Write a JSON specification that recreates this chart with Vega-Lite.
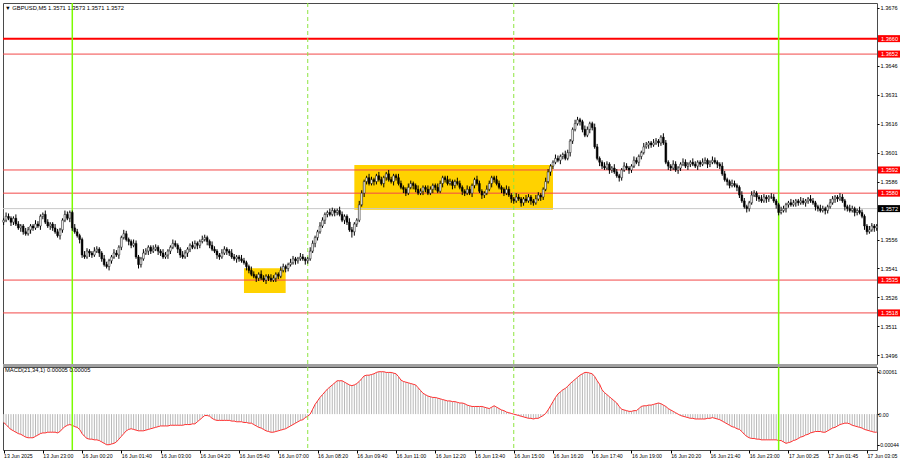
{
"$schema": "https://vega.github.io/schema/vega-lite/v6.json",
"padding": {"left": 1, "top": 1, "right": 0, "bottom": 0},
"background": "#ffffff",
"spacing": 3,
"bounds": "flush",
"config": {
  "view": {"stroke": "#4a4a4a", "strokeWidth": 1},
  "font": "Liberation Sans",
  "axis": {"labelFont": "Liberation Sans", "labelFontSize": 5.6, "labelColor": "#000000", "tickColor": "#000000", "domain": false, "grid": false},
  "axisX": {"labelFontSize": 5.2},
  "axisY": {"labelFontSize": 5.6},
  "title": {"font": "Liberation Sans", "fontSize": 5.8, "fontWeight": "normal", "color": "#000000", "anchor": "start", "frame": "group"}
},
"datasets": {
"bars": [
{"i":0,"o":1.3565,"h":1.3567,"l":1.35635,"c":1.3566,"m":-0.00012},
{"i":1,"o":1.3566,"h":1.357,"l":1.3565,"c":1.3568,"m":-0.00015},
{"i":2,"o":1.3568,"h":1.35695,"l":1.3566,"c":1.3567,"m":-0.00019},
{"i":3,"o":1.3567,"h":1.3568,"l":1.3563,"c":1.3565,"m":-0.00022},
{"i":4,"o":1.3565,"h":1.3568,"l":1.35635,"c":1.3567,"m":-0.00024},
{"i":5,"o":1.3567,"h":1.3569,"l":1.3563,"c":1.3564,"m":-0.00026},
{"i":6,"o":1.3564,"h":1.35655,"l":1.3561,"c":1.3562,"m":-0.00028},
{"i":7,"o":1.3562,"h":1.3564,"l":1.356,"c":1.3563,"m":-0.00029},
{"i":8,"o":1.3563,"h":1.3564,"l":1.35585,"c":1.356,"m":-0.00031},
{"i":9,"o":1.356,"h":1.3562,"l":1.3558,"c":1.3559,"m":-0.00033},
{"i":10,"o":1.3559,"h":1.35625,"l":1.3558,"c":1.3561,"m":-0.00034},
{"i":11,"o":1.3561,"h":1.3564,"l":1.3559,"c":1.3563,"m":-0.00034},
{"i":12,"o":1.3563,"h":1.3564,"l":1.35605,"c":1.3562,"m":-0.00034},
{"i":13,"o":1.3562,"h":1.3566,"l":1.3561,"c":1.3564,"m":-0.00032},
{"i":14,"o":1.3564,"h":1.35655,"l":1.3562,"c":1.3563,"m":-0.0003},
{"i":15,"o":1.3563,"h":1.3569,"l":1.3561,"c":1.3568,"m":-0.00028},
{"i":16,"o":1.3568,"h":1.357,"l":1.35665,"c":1.3569,"m":-0.00027},
{"i":17,"o":1.3569,"h":1.3571,"l":1.3564,"c":1.3565,"m":-0.00027},
{"i":18,"o":1.3565,"h":1.35665,"l":1.3562,"c":1.3563,"m":-0.00026},
{"i":19,"o":1.3563,"h":1.3565,"l":1.3561,"c":1.3564,"m":-0.00026},
{"i":20,"o":1.3564,"h":1.3565,"l":1.35605,"c":1.3562,"m":-0.00026},
{"i":21,"o":1.3562,"h":1.3564,"l":1.3559,"c":1.356,"m":-0.00026},
{"i":22,"o":1.356,"h":1.35615,"l":1.3557,"c":1.3558,"m":-0.00027},
{"i":23,"o":1.3558,"h":1.3562,"l":1.3556,"c":1.3561,"m":-0.00025},
{"i":24,"o":1.3561,"h":1.3567,"l":1.35595,"c":1.3566,"m":-0.00021},
{"i":25,"o":1.3566,"h":1.3571,"l":1.3565,"c":1.3569,"m":-0.00018},
{"i":26,"o":1.3569,"h":1.35705,"l":1.3566,"c":1.3567,"m":-0.00016},
{"i":27,"o":1.3567,"h":1.3571,"l":1.3565,"c":1.357,"m":-0.00015},
{"i":28,"o":1.357,"h":1.3571,"l":1.35605,"c":1.3562,"m":-0.00016},
{"i":29,"o":1.3562,"h":1.3564,"l":1.3559,"c":1.356,"m":-0.00018},
{"i":30,"o":1.356,"h":1.35615,"l":1.3557,"c":1.3558,"m":-0.00019},
{"i":31,"o":1.3558,"h":1.3559,"l":1.3554,"c":1.3556,"m":-0.00022},
{"i":32,"o":1.3556,"h":1.3557,"l":1.35465,"c":1.3548,"m":-0.00028},
{"i":33,"o":1.3548,"h":1.355,"l":1.3546,"c":1.3547,"m":-0.00032},
{"i":34,"o":1.3547,"h":1.35515,"l":1.3546,"c":1.355,"m":-0.00035},
{"i":35,"o":1.355,"h":1.3551,"l":1.3547,"c":1.3549,"m":-0.00036},
{"i":36,"o":1.3549,"h":1.355,"l":1.35465,"c":1.3548,"m":-0.00036},
{"i":37,"o":1.3548,"h":1.3552,"l":1.3547,"c":1.355,"m":-0.00037},
{"i":38,"o":1.355,"h":1.35525,"l":1.3549,"c":1.3551,"m":-0.00037},
{"i":39,"o":1.3551,"h":1.3552,"l":1.3547,"c":1.3549,"m":-0.00038},
{"i":40,"o":1.3549,"h":1.355,"l":1.35445,"c":1.3546,"m":-0.0004},
{"i":41,"o":1.3546,"h":1.3548,"l":1.3542,"c":1.3543,"m":-0.00042},
{"i":42,"o":1.3543,"h":1.35445,"l":1.3541,"c":1.3542,"m":-0.00044},
{"i":43,"o":1.3542,"h":1.3546,"l":1.354,"c":1.3545,"m":-0.00044},
{"i":44,"o":1.3545,"h":1.3548,"l":1.35435,"c":1.3547,"m":-0.00043},
{"i":45,"o":1.3547,"h":1.3551,"l":1.3546,"c":1.3549,"m":-0.00042},
{"i":46,"o":1.3549,"h":1.35505,"l":1.3547,"c":1.3548,"m":-0.0004},
{"i":47,"o":1.3548,"h":1.3553,"l":1.3546,"c":1.3552,"m":-0.00036},
{"i":48,"o":1.3552,"h":1.3558,"l":1.35505,"c":1.3557,"m":-0.00032},
{"i":49,"o":1.3557,"h":1.3561,"l":1.3556,"c":1.3559,"m":-0.00028},
{"i":50,"o":1.3559,"h":1.35605,"l":1.3555,"c":1.3556,"m":-0.00024},
{"i":51,"o":1.3556,"h":1.3557,"l":1.3553,"c":1.3555,"m":-0.00022},
{"i":52,"o":1.3555,"h":1.3556,"l":1.35515,"c":1.3553,"m":-0.00021},
{"i":53,"o":1.3553,"h":1.3556,"l":1.3552,"c":1.3554,"m":-0.00022},
{"i":54,"o":1.3554,"h":1.35555,"l":1.3546,"c":1.3547,"m":-0.00023},
{"i":55,"o":1.3547,"h":1.3548,"l":1.3541,"c":1.3543,"m":-0.00024},
{"i":56,"o":1.3543,"h":1.3547,"l":1.35415,"c":1.3546,"m":-0.00024},
{"i":57,"o":1.3546,"h":1.3551,"l":1.3545,"c":1.3549,"m":-0.00024},
{"i":58,"o":1.3549,"h":1.35515,"l":1.3548,"c":1.355,"m":-0.00023},
{"i":59,"o":1.355,"h":1.3553,"l":1.3548,"c":1.3552,"m":-0.00022},
{"i":60,"o":1.3552,"h":1.3553,"l":1.35485,"c":1.355,"m":-0.00021},
{"i":61,"o":1.355,"h":1.3553,"l":1.3549,"c":1.3551,"m":-0.0002},
{"i":62,"o":1.3551,"h":1.35535,"l":1.355,"c":1.3552,"m":-0.00019},
{"i":63,"o":1.3552,"h":1.3553,"l":1.3548,"c":1.355,"m":-0.00018},
{"i":64,"o":1.355,"h":1.3551,"l":1.35475,"c":1.3549,"m":-0.00017},
{"i":65,"o":1.3549,"h":1.3551,"l":1.3546,"c":1.3547,"m":-0.00017},
{"i":66,"o":1.3547,"h":1.35495,"l":1.3546,"c":1.3548,"m":-0.00017},
{"i":67,"o":1.3548,"h":1.3551,"l":1.3546,"c":1.355,"m":-0.00017},
{"i":68,"o":1.355,"h":1.3553,"l":1.35485,"c":1.3552,"m":-0.00016},
{"i":69,"o":1.3552,"h":1.3556,"l":1.3551,"c":1.3554,"m":-0.00016},
{"i":70,"o":1.3554,"h":1.35555,"l":1.3552,"c":1.3553,"m":-0.00016},
{"i":71,"o":1.3553,"h":1.3554,"l":1.3549,"c":1.3551,"m":-0.00016},
{"i":72,"o":1.3551,"h":1.3552,"l":1.35465,"c":1.3548,"m":-0.00016},
{"i":73,"o":1.3548,"h":1.355,"l":1.3546,"c":1.3547,"m":-0.00016},
{"i":74,"o":1.3547,"h":1.35505,"l":1.3546,"c":1.3549,"m":-0.00015},
{"i":75,"o":1.3549,"h":1.3552,"l":1.3547,"c":1.3551,"m":-0.00015},
{"i":76,"o":1.3551,"h":1.3554,"l":1.35495,"c":1.3553,"m":-0.00015},
{"i":77,"o":1.3553,"h":1.3555,"l":1.3551,"c":1.3552,"m":-0.00014},
{"i":78,"o":1.3552,"h":1.35555,"l":1.3551,"c":1.3554,"m":-0.00014},
{"i":79,"o":1.3554,"h":1.3555,"l":1.3551,"c":1.3553,"m":-0.00011},
{"i":80,"o":1.3553,"h":1.3556,"l":1.35515,"c":1.3555,"m":-0.00008},
{"i":81,"o":1.3555,"h":1.3558,"l":1.3554,"c":1.3556,"m":-0.00005},
{"i":82,"o":1.3556,"h":1.35585,"l":1.3555,"c":1.3557,"m":-0.00002},
{"i":83,"o":1.3557,"h":1.3558,"l":1.3553,"c":1.3555,"m":-0.00002},
{"i":84,"o":1.3555,"h":1.3556,"l":1.35515,"c":1.3553,"m":-0.00003},
{"i":85,"o":1.3553,"h":1.3555,"l":1.355,"c":1.3551,"m":-0.00006},
{"i":86,"o":1.3551,"h":1.35525,"l":1.3549,"c":1.355,"m":-0.00008},
{"i":87,"o":1.355,"h":1.3551,"l":1.3546,"c":1.3548,"m":-0.00009},
{"i":88,"o":1.3548,"h":1.3549,"l":1.35455,"c":1.3547,"m":-0.00009},
{"i":89,"o":1.3547,"h":1.3551,"l":1.3546,"c":1.3549,"m":-0.00009},
{"i":90,"o":1.3549,"h":1.35525,"l":1.3548,"c":1.3551,"m":-0.00009},
{"i":91,"o":1.3551,"h":1.3552,"l":1.3548,"c":1.355,"m":-0.00009},
{"i":92,"o":1.355,"h":1.3551,"l":1.35475,"c":1.3549,"m":-0.00009},
{"i":93,"o":1.3549,"h":1.3551,"l":1.3546,"c":1.3547,"m":-0.0001},
{"i":94,"o":1.3547,"h":1.35485,"l":1.3545,"c":1.3546,"m":-0.0001},
{"i":95,"o":1.3546,"h":1.3548,"l":1.3544,"c":1.3547,"m":-0.00011},
{"i":96,"o":1.3547,"h":1.3548,"l":1.35445,"c":1.3546,"m":-0.00011},
{"i":97,"o":1.3546,"h":1.3548,"l":1.3544,"c":1.3545,"m":-0.00011},
{"i":98,"o":1.3545,"h":1.35465,"l":1.3543,"c":1.3544,"m":-0.00012},
{"i":99,"o":1.3544,"h":1.3545,"l":1.354,"c":1.3542,"m":-0.00012},
{"i":100,"o":1.3542,"h":1.3543,"l":1.35385,"c":1.354,"m":-0.00013},
{"i":101,"o":1.354,"h":1.3542,"l":1.3537,"c":1.3538,"m":-0.00013},
{"i":102,"o":1.3538,"h":1.35395,"l":1.3536,"c":1.3537,"m":-0.00015},
{"i":103,"o":1.3537,"h":1.3538,"l":1.3534,"c":1.3536,"m":-0.00017},
{"i":104,"o":1.3536,"h":1.3539,"l":1.35345,"c":1.3538,"m":-0.00019},
{"i":105,"o":1.3538,"h":1.354,"l":1.3535,"c":1.3536,"m":-0.0002},
{"i":106,"o":1.3536,"h":1.35375,"l":1.3534,"c":1.3535,"m":-0.00022},
{"i":107,"o":1.3535,"h":1.3538,"l":1.3533,"c":1.3537,"m":-0.00024},
{"i":108,"o":1.3537,"h":1.3538,"l":1.35345,"c":1.3536,"m":-0.00025},
{"i":109,"o":1.3536,"h":1.3538,"l":1.3534,"c":1.3535,"m":-0.00026},
{"i":110,"o":1.3535,"h":1.35375,"l":1.3534,"c":1.3536,"m":-0.00026},
{"i":111,"o":1.3536,"h":1.3539,"l":1.3534,"c":1.3538,"m":-0.00025},
{"i":112,"o":1.3538,"h":1.3539,"l":1.35355,"c":1.3537,"m":-0.00024},
{"i":113,"o":1.3537,"h":1.3542,"l":1.3536,"c":1.354,"m":-0.00023},
{"i":114,"o":1.354,"h":1.35435,"l":1.3539,"c":1.3542,"m":-0.00022},
{"i":115,"o":1.3542,"h":1.3543,"l":1.3539,"c":1.3541,"m":-0.00021},
{"i":116,"o":1.3541,"h":1.3544,"l":1.35395,"c":1.3543,"m":-0.00019},
{"i":117,"o":1.3543,"h":1.3546,"l":1.3542,"c":1.3544,"m":-0.00017},
{"i":118,"o":1.3544,"h":1.35475,"l":1.3543,"c":1.3546,"m":-0.00015},
{"i":119,"o":1.3546,"h":1.3547,"l":1.3543,"c":1.3545,"m":-0.00013},
{"i":120,"o":1.3545,"h":1.3547,"l":1.35435,"c":1.3546,"m":-0.00011},
{"i":121,"o":1.3546,"h":1.3549,"l":1.3545,"c":1.3547,"m":-0.00009},
{"i":122,"o":1.3547,"h":1.35485,"l":1.3545,"c":1.3546,"m":-0.00008},
{"i":123,"o":1.3546,"h":1.3547,"l":1.3543,"c":1.3545,"m":-0.00005},
{"i":124,"o":1.3545,"h":1.3547,"l":1.35435,"c":1.3546,"m":-0.00003},
{"i":125,"o":1.3546,"h":1.3552,"l":1.3545,"c":1.355,"m":0},
{"i":126,"o":1.355,"h":1.35555,"l":1.3549,"c":1.3554,"m":0.00007},
{"i":127,"o":1.3554,"h":1.3558,"l":1.3552,"c":1.3557,"m":0.00014},
{"i":128,"o":1.3557,"h":1.3561,"l":1.35555,"c":1.356,"m":0.00019},
{"i":129,"o":1.356,"h":1.3565,"l":1.3559,"c":1.3563,"m":0.00024},
{"i":130,"o":1.3563,"h":1.35675,"l":1.3562,"c":1.3566,"m":0.00028},
{"i":131,"o":1.3566,"h":1.357,"l":1.3564,"c":1.3569,"m":0.00032},
{"i":132,"o":1.3569,"h":1.3571,"l":1.35675,"c":1.357,"m":0.00036},
{"i":133,"o":1.357,"h":1.3572,"l":1.3568,"c":1.3569,"m":0.00039},
{"i":134,"o":1.3569,"h":1.35725,"l":1.3568,"c":1.3571,"m":0.00042},
{"i":135,"o":1.3571,"h":1.3572,"l":1.3568,"c":1.357,"m":0.00045},
{"i":136,"o":1.357,"h":1.3572,"l":1.35685,"c":1.3571,"m":0.00048},
{"i":137,"o":1.3571,"h":1.3573,"l":1.3568,"c":1.3569,"m":0.00048},
{"i":138,"o":1.3569,"h":1.35705,"l":1.3565,"c":1.3566,"m":0.00048},
{"i":139,"o":1.3566,"h":1.3569,"l":1.3564,"c":1.3568,"m":0.00046},
{"i":140,"o":1.3568,"h":1.3569,"l":1.35635,"c":1.3565,"m":0.00044},
{"i":141,"o":1.3565,"h":1.3567,"l":1.356,"c":1.3561,"m":0.00042},
{"i":142,"o":1.3561,"h":1.35625,"l":1.3557,"c":1.356,"m":0.00041},
{"i":143,"o":1.356,"h":1.3565,"l":1.3558,"c":1.3564,"m":0.00042},
{"i":144,"o":1.3564,"h":1.3567,"l":1.35625,"c":1.3566,"m":0.00044},
{"i":145,"o":1.3566,"h":1.3576,"l":1.3565,"c":1.3574,"m":0.00047},
{"i":146,"o":1.3574,"h":1.35815,"l":1.3573,"c":1.358,"m":0.00051},
{"i":147,"o":1.358,"h":1.3587,"l":1.3578,"c":1.3586,"m":0.00055},
{"i":148,"o":1.3586,"h":1.3589,"l":1.35845,"c":1.3588,"m":0.00056},
{"i":149,"o":1.3588,"h":1.359,"l":1.3584,"c":1.3585,"m":0.00056},
{"i":150,"o":1.3585,"h":1.35885,"l":1.3584,"c":1.3587,"m":0.00057},
{"i":151,"o":1.3587,"h":1.3588,"l":1.3584,"c":1.3586,"m":0.00058},
{"i":152,"o":1.3586,"h":1.359,"l":1.35845,"c":1.3589,"m":0.0006},
{"i":153,"o":1.3589,"h":1.3591,"l":1.3586,"c":1.3587,"m":0.00061},
{"i":154,"o":1.3587,"h":1.35885,"l":1.3584,"c":1.3585,"m":0.00061},
{"i":155,"o":1.3585,"h":1.3589,"l":1.3583,"c":1.3588,"m":0.00061},
{"i":156,"o":1.3588,"h":1.3591,"l":1.35865,"c":1.359,"m":0.0006},
{"i":157,"o":1.359,"h":1.3592,"l":1.3586,"c":1.3587,"m":0.0006},
{"i":158,"o":1.3587,"h":1.35885,"l":1.3585,"c":1.3586,"m":0.0006},
{"i":159,"o":1.3586,"h":1.359,"l":1.3584,"c":1.3589,"m":0.00059},
{"i":160,"o":1.3589,"h":1.359,"l":1.35865,"c":1.3588,"m":0.00058},
{"i":161,"o":1.3588,"h":1.359,"l":1.3584,"c":1.3585,"m":0.00054},
{"i":162,"o":1.3585,"h":1.35865,"l":1.3582,"c":1.3583,"m":0.00049},
{"i":163,"o":1.3583,"h":1.3584,"l":1.358,"c":1.3582,"m":0.00047},
{"i":164,"o":1.3582,"h":1.3583,"l":1.35785,"c":1.358,"m":0.00046},
{"i":165,"o":1.358,"h":1.3585,"l":1.3579,"c":1.3583,"m":0.00045},
{"i":166,"o":1.3583,"h":1.35865,"l":1.3582,"c":1.3585,"m":0.00044},
{"i":167,"o":1.3585,"h":1.3586,"l":1.3582,"c":1.3584,"m":0.00043},
{"i":168,"o":1.3584,"h":1.3585,"l":1.35805,"c":1.3582,"m":0.00042},
{"i":169,"o":1.3582,"h":1.3584,"l":1.3579,"c":1.358,"m":0.00038},
{"i":170,"o":1.358,"h":1.35825,"l":1.3579,"c":1.3581,"m":0.00034},
{"i":171,"o":1.3581,"h":1.3584,"l":1.3579,"c":1.3583,"m":0.0003},
{"i":172,"o":1.3583,"h":1.3584,"l":1.35805,"c":1.3582,"m":0.00028},
{"i":173,"o":1.3582,"h":1.3584,"l":1.3579,"c":1.358,"m":0.00026},
{"i":174,"o":1.358,"h":1.35835,"l":1.3579,"c":1.3582,"m":0.00025},
{"i":175,"o":1.3582,"h":1.3585,"l":1.358,"c":1.3584,"m":0.00024},
{"i":176,"o":1.3584,"h":1.3585,"l":1.35815,"c":1.3583,"m":0.00024},
{"i":177,"o":1.3583,"h":1.3585,"l":1.358,"c":1.3581,"m":0.00023},
{"i":178,"o":1.3581,"h":1.35865,"l":1.358,"c":1.3585,"m":0.00022},
{"i":179,"o":1.3585,"h":1.3589,"l":1.3583,"c":1.3588,"m":0.00021},
{"i":180,"o":1.3588,"h":1.3589,"l":1.35855,"c":1.3587,"m":0.0002},
{"i":181,"o":1.3587,"h":1.3589,"l":1.3584,"c":1.3585,"m":0.00019},
{"i":182,"o":1.3585,"h":1.35875,"l":1.3584,"c":1.3586,"m":0.00019},
{"i":183,"o":1.3586,"h":1.3587,"l":1.3582,"c":1.3584,"m":0.00018},
{"i":184,"o":1.3584,"h":1.3587,"l":1.35825,"c":1.3586,"m":0.00018},
{"i":185,"o":1.3586,"h":1.3588,"l":1.3584,"c":1.3585,"m":0.00017},
{"i":186,"o":1.3585,"h":1.35865,"l":1.3582,"c":1.3583,"m":0.00016},
{"i":187,"o":1.3583,"h":1.3584,"l":1.3579,"c":1.3581,"m":0.00016},
{"i":188,"o":1.3581,"h":1.3582,"l":1.35785,"c":1.358,"m":0.00015},
{"i":189,"o":1.358,"h":1.3584,"l":1.3579,"c":1.3582,"m":0.00013},
{"i":190,"o":1.3582,"h":1.35835,"l":1.3579,"c":1.358,"m":0.00012},
{"i":191,"o":1.358,"h":1.3585,"l":1.3578,"c":1.3584,"m":0.00011},
{"i":192,"o":1.3584,"h":1.3588,"l":1.35825,"c":1.3587,"m":0.00011},
{"i":193,"o":1.3587,"h":1.3589,"l":1.3584,"c":1.3585,"m":0.00011},
{"i":194,"o":1.3585,"h":1.35865,"l":1.358,"c":1.3581,"m":0.00011},
{"i":195,"o":1.3581,"h":1.3582,"l":1.3577,"c":1.3579,"m":0.00011},
{"i":196,"o":1.3579,"h":1.3581,"l":1.35775,"c":1.358,"m":0.0001},
{"i":197,"o":1.358,"h":1.3584,"l":1.3579,"c":1.3582,"m":0.00009},
{"i":198,"o":1.3582,"h":1.35865,"l":1.3581,"c":1.3585,"m":0.00008},
{"i":199,"o":1.3585,"h":1.3589,"l":1.3583,"c":1.3588,"m":0.0001},
{"i":200,"o":1.3588,"h":1.3589,"l":1.35855,"c":1.3587,"m":0.00012},
{"i":201,"o":1.3587,"h":1.3589,"l":1.3584,"c":1.3585,"m":0.0001},
{"i":202,"o":1.3585,"h":1.35865,"l":1.3582,"c":1.3583,"m":0.00008},
{"i":203,"o":1.3583,"h":1.3584,"l":1.358,"c":1.3582,"m":0.00006},
{"i":204,"o":1.3582,"h":1.3583,"l":1.35785,"c":1.358,"m":0.00005},
{"i":205,"o":1.358,"h":1.3584,"l":1.3579,"c":1.3582,"m":0.00003},
{"i":206,"o":1.3582,"h":1.35835,"l":1.3578,"c":1.3579,"m":0.00002},
{"i":207,"o":1.3579,"h":1.358,"l":1.3575,"c":1.3577,"m":0.00001},
{"i":208,"o":1.3577,"h":1.3578,"l":1.35745,"c":1.3576,"m":0},
{"i":209,"o":1.3576,"h":1.358,"l":1.3575,"c":1.3578,"m":-0.00001},
{"i":210,"o":1.3578,"h":1.35795,"l":1.3576,"c":1.3577,"m":-0.00002},
{"i":211,"o":1.3577,"h":1.3578,"l":1.3573,"c":1.3575,"m":-0.00003},
{"i":212,"o":1.3575,"h":1.3578,"l":1.35735,"c":1.3577,"m":-0.00004},
{"i":213,"o":1.3577,"h":1.3579,"l":1.3575,"c":1.3576,"m":-0.00005},
{"i":214,"o":1.3576,"h":1.35795,"l":1.3575,"c":1.3578,"m":-0.00006},
{"i":215,"o":1.3578,"h":1.3579,"l":1.3574,"c":1.3576,"m":-0.00006},
{"i":216,"o":1.3576,"h":1.3577,"l":1.35735,"c":1.3575,"m":-0.00007},
{"i":217,"o":1.3575,"h":1.3579,"l":1.3574,"c":1.3577,"m":-0.00006},
{"i":218,"o":1.3577,"h":1.35805,"l":1.3576,"c":1.3579,"m":-0.00006},
{"i":219,"o":1.3579,"h":1.358,"l":1.3576,"c":1.3578,"m":-0.00004},
{"i":220,"o":1.3578,"h":1.3583,"l":1.35765,"c":1.3582,"m":-0.00002},
{"i":221,"o":1.3582,"h":1.3588,"l":1.3581,"c":1.3586,"m":0.00001},
{"i":222,"o":1.3586,"h":1.35925,"l":1.3585,"c":1.3591,"m":0.00006},
{"i":223,"o":1.3591,"h":1.3595,"l":1.3589,"c":1.3594,"m":0.00012},
{"i":224,"o":1.3594,"h":1.3597,"l":1.35925,"c":1.3596,"m":0.00018},
{"i":225,"o":1.3596,"h":1.36,"l":1.3595,"c":1.3598,"m":0.00024},
{"i":226,"o":1.3598,"h":1.35995,"l":1.3596,"c":1.3597,"m":0.00029},
{"i":227,"o":1.3597,"h":1.36,"l":1.3595,"c":1.3599,"m":0.00032},
{"i":228,"o":1.3599,"h":1.3601,"l":1.35975,"c":1.36,"m":0.00035},
{"i":229,"o":1.36,"h":1.3602,"l":1.3597,"c":1.3598,"m":0.00037},
{"i":230,"o":1.3598,"h":1.36025,"l":1.3597,"c":1.3601,"m":0.0004},
{"i":231,"o":1.3601,"h":1.3608,"l":1.3599,"c":1.3607,"m":0.00044},
{"i":232,"o":1.3607,"h":1.3614,"l":1.36055,"c":1.3613,"m":0.00047},
{"i":233,"o":1.3613,"h":1.3618,"l":1.3612,"c":1.3616,"m":0.0005},
{"i":234,"o":1.3616,"h":1.36195,"l":1.3615,"c":1.3618,"m":0.00053},
{"i":235,"o":1.3618,"h":1.3619,"l":1.3615,"c":1.3617,"m":0.00056},
{"i":236,"o":1.3617,"h":1.3618,"l":1.36115,"c":1.3613,"m":0.00058},
{"i":237,"o":1.3613,"h":1.3615,"l":1.3609,"c":1.361,"m":0.0006},
{"i":238,"o":1.361,"h":1.36145,"l":1.3609,"c":1.3613,"m":0.0006},
{"i":239,"o":1.3613,"h":1.3617,"l":1.3611,"c":1.3616,"m":0.00059},
{"i":240,"o":1.3616,"h":1.3617,"l":1.36125,"c":1.3614,"m":0.00058},
{"i":241,"o":1.3614,"h":1.3616,"l":1.3603,"c":1.3604,"m":0.00054},
{"i":242,"o":1.3604,"h":1.36055,"l":1.3597,"c":1.3598,"m":0.00048},
{"i":243,"o":1.3598,"h":1.3599,"l":1.3594,"c":1.3596,"m":0.00043},
{"i":244,"o":1.3596,"h":1.3597,"l":1.35925,"c":1.3594,"m":0.00035},
{"i":245,"o":1.3594,"h":1.3596,"l":1.3592,"c":1.3593,"m":0.00031},
{"i":246,"o":1.3593,"h":1.35965,"l":1.3592,"c":1.3595,"m":0.00028},
{"i":247,"o":1.3595,"h":1.3596,"l":1.359,"c":1.3592,"m":0.00025},
{"i":248,"o":1.3592,"h":1.3594,"l":1.35905,"c":1.3593,"m":0.00022},
{"i":249,"o":1.3593,"h":1.3595,"l":1.359,"c":1.3591,"m":0.00019},
{"i":250,"o":1.3591,"h":1.35925,"l":1.3588,"c":1.3589,"m":0.00016},
{"i":251,"o":1.3589,"h":1.359,"l":1.3586,"c":1.3588,"m":0.00011},
{"i":252,"o":1.3588,"h":1.3593,"l":1.35865,"c":1.3592,"m":0.00007},
{"i":253,"o":1.3592,"h":1.3596,"l":1.3591,"c":1.3594,"m":0.00006},
{"i":254,"o":1.3594,"h":1.35955,"l":1.3592,"c":1.3593,"m":0.00005},
{"i":255,"o":1.3593,"h":1.3594,"l":1.359,"c":1.3592,"m":0.00004},
{"i":256,"o":1.3592,"h":1.3595,"l":1.35905,"c":1.3594,"m":0.00004},
{"i":257,"o":1.3594,"h":1.3599,"l":1.3593,"c":1.3597,"m":0.00005},
{"i":258,"o":1.3597,"h":1.35985,"l":1.3595,"c":1.3596,"m":0.00005},
{"i":259,"o":1.3596,"h":1.36,"l":1.3594,"c":1.3599,"m":0.00008},
{"i":260,"o":1.3599,"h":1.3602,"l":1.35975,"c":1.3601,"m":0.00011},
{"i":261,"o":1.3601,"h":1.3606,"l":1.36,"c":1.3604,"m":0.00012},
{"i":262,"o":1.3604,"h":1.36065,"l":1.3603,"c":1.3605,"m":0.00012},
{"i":263,"o":1.3605,"h":1.3607,"l":1.3603,"c":1.3606,"m":0.00013},
{"i":264,"o":1.3606,"h":1.3607,"l":1.36035,"c":1.3605,"m":0.00013},
{"i":265,"o":1.3605,"h":1.3608,"l":1.3604,"c":1.3606,"m":0.00014},
{"i":266,"o":1.3606,"h":1.36085,"l":1.3605,"c":1.3607,"m":0.00015},
{"i":267,"o":1.3607,"h":1.3608,"l":1.3604,"c":1.3606,"m":0.00016},
{"i":268,"o":1.3606,"h":1.361,"l":1.36045,"c":1.3609,"m":0.00015},
{"i":269,"o":1.3609,"h":1.3611,"l":1.3605,"c":1.3606,"m":0.00013},
{"i":270,"o":1.3606,"h":1.36075,"l":1.3595,"c":1.3596,"m":0.00011},
{"i":271,"o":1.3596,"h":1.3597,"l":1.3592,"c":1.3594,"m":0.00008},
{"i":272,"o":1.3594,"h":1.3595,"l":1.35915,"c":1.3593,"m":0.00006},
{"i":273,"o":1.3593,"h":1.3597,"l":1.3592,"c":1.3595,"m":0.00004},
{"i":274,"o":1.3595,"h":1.35965,"l":1.3591,"c":1.3592,"m":0.00002},
{"i":275,"o":1.3592,"h":1.3594,"l":1.359,"c":1.3593,"m":0},
{"i":276,"o":1.3593,"h":1.3596,"l":1.35915,"c":1.3595,"m":-0.00002},
{"i":277,"o":1.3595,"h":1.3598,"l":1.3594,"c":1.3596,"m":-0.00003},
{"i":278,"o":1.3596,"h":1.35975,"l":1.3593,"c":1.3594,"m":-0.00004},
{"i":279,"o":1.3594,"h":1.3596,"l":1.3592,"c":1.3595,"m":-0.00005},
{"i":280,"o":1.3595,"h":1.3597,"l":1.35935,"c":1.3596,"m":-0.00006},
{"i":281,"o":1.3596,"h":1.3598,"l":1.3594,"c":1.3595,"m":-0.00006},
{"i":282,"o":1.3595,"h":1.35965,"l":1.3593,"c":1.3594,"m":-0.00007},
{"i":283,"o":1.3594,"h":1.3597,"l":1.3592,"c":1.3596,"m":-0.00007},
{"i":284,"o":1.3596,"h":1.3597,"l":1.35935,"c":1.3595,"m":-0.00007},
{"i":285,"o":1.3595,"h":1.3598,"l":1.3594,"c":1.3596,"m":-0.00007},
{"i":286,"o":1.3596,"h":1.35985,"l":1.3595,"c":1.3597,"m":-0.00007},
{"i":287,"o":1.3597,"h":1.3598,"l":1.3593,"c":1.3595,"m":-0.00006},
{"i":288,"o":1.3595,"h":1.3597,"l":1.35935,"c":1.3596,"m":-0.00006},
{"i":289,"o":1.3596,"h":1.3599,"l":1.3595,"c":1.3597,"m":-0.00005},
{"i":290,"o":1.3597,"h":1.35985,"l":1.3595,"c":1.3596,"m":-0.00006},
{"i":291,"o":1.3596,"h":1.3597,"l":1.3593,"c":1.3595,"m":-0.00007},
{"i":292,"o":1.3595,"h":1.3596,"l":1.35925,"c":1.3594,"m":-0.00008},
{"i":293,"o":1.3594,"h":1.3596,"l":1.3589,"c":1.359,"m":-0.0001},
{"i":294,"o":1.359,"h":1.35915,"l":1.3586,"c":1.3587,"m":-0.00012},
{"i":295,"o":1.3587,"h":1.3588,"l":1.3584,"c":1.3586,"m":-0.00014},
{"i":296,"o":1.3586,"h":1.3587,"l":1.35825,"c":1.3584,"m":-0.00016},
{"i":297,"o":1.3584,"h":1.3587,"l":1.3583,"c":1.3585,"m":-0.00018},
{"i":298,"o":1.3585,"h":1.35865,"l":1.3583,"c":1.3584,"m":-0.00019},
{"i":299,"o":1.3584,"h":1.3585,"l":1.3581,"c":1.3583,"m":-0.00021},
{"i":300,"o":1.3583,"h":1.3584,"l":1.35775,"c":1.3579,"m":-0.00022},
{"i":301,"o":1.3579,"h":1.3581,"l":1.3575,"c":1.3576,"m":-0.00025},
{"i":302,"o":1.3576,"h":1.35775,"l":1.3572,"c":1.3573,"m":-0.00029},
{"i":303,"o":1.3573,"h":1.3574,"l":1.357,"c":1.3572,"m":-0.00032},
{"i":304,"o":1.3572,"h":1.3576,"l":1.35705,"c":1.3575,"m":-0.00034},
{"i":305,"o":1.3575,"h":1.3581,"l":1.3574,"c":1.3579,"m":-0.00035},
{"i":306,"o":1.3579,"h":1.35815,"l":1.3578,"c":1.358,"m":-0.00035},
{"i":307,"o":1.358,"h":1.3581,"l":1.3576,"c":1.3578,"m":-0.00036},
{"i":308,"o":1.3578,"h":1.3579,"l":1.35755,"c":1.3577,"m":-0.00036},
{"i":309,"o":1.3577,"h":1.3579,"l":1.3575,"c":1.3576,"m":-0.00037},
{"i":310,"o":1.3576,"h":1.35795,"l":1.3575,"c":1.3578,"m":-0.00037},
{"i":311,"o":1.3578,"h":1.3579,"l":1.3575,"c":1.3577,"m":-0.00037},
{"i":312,"o":1.3577,"h":1.3579,"l":1.35755,"c":1.3578,"m":-0.00037},
{"i":313,"o":1.3578,"h":1.358,"l":1.3577,"c":1.3578,"m":-0.00037},
{"i":314,"o":1.3578,"h":1.35795,"l":1.3575,"c":1.3576,"m":-0.00037},
{"i":315,"o":1.3576,"h":1.3577,"l":1.3572,"c":1.3574,"m":-0.00037},
{"i":316,"o":1.3574,"h":1.3575,"l":1.35685,"c":1.357,"m":-0.00038},
{"i":317,"o":1.357,"h":1.3573,"l":1.3569,"c":1.3571,"m":-0.00038},
{"i":318,"o":1.3571,"h":1.35735,"l":1.357,"c":1.3572,"m":-0.0004},
{"i":319,"o":1.3572,"h":1.3575,"l":1.357,"c":1.3574,"m":-0.00042},
{"i":320,"o":1.3574,"h":1.3576,"l":1.35725,"c":1.3575,"m":-0.00041},
{"i":321,"o":1.3575,"h":1.3577,"l":1.3573,"c":1.3574,"m":-0.0004},
{"i":322,"o":1.3574,"h":1.35765,"l":1.3573,"c":1.3575,"m":-0.00038},
{"i":323,"o":1.3575,"h":1.3577,"l":1.3573,"c":1.3576,"m":-0.00037},
{"i":324,"o":1.3576,"h":1.3577,"l":1.35735,"c":1.3575,"m":-0.00035},
{"i":325,"o":1.3575,"h":1.3578,"l":1.3574,"c":1.3576,"m":-0.00033},
{"i":326,"o":1.3576,"h":1.35775,"l":1.3574,"c":1.3575,"m":-0.00032},
{"i":327,"o":1.3575,"h":1.3577,"l":1.3573,"c":1.3576,"m":-0.0003},
{"i":328,"o":1.3576,"h":1.3578,"l":1.35745,"c":1.3577,"m":-0.00029},
{"i":329,"o":1.3577,"h":1.3579,"l":1.3575,"c":1.3576,"m":-0.00027},
{"i":330,"o":1.3576,"h":1.35775,"l":1.3574,"c":1.3575,"m":-0.00026},
{"i":331,"o":1.3575,"h":1.3576,"l":1.3571,"c":1.3573,"m":-0.00025},
{"i":332,"o":1.3573,"h":1.3574,"l":1.35705,"c":1.3572,"m":-0.00025},
{"i":333,"o":1.3572,"h":1.3574,"l":1.357,"c":1.3571,"m":-0.00025},
{"i":334,"o":1.3571,"h":1.35735,"l":1.357,"c":1.3572,"m":-0.00026},
{"i":335,"o":1.3572,"h":1.3573,"l":1.3569,"c":1.3571,"m":-0.00026},
{"i":336,"o":1.3571,"h":1.3574,"l":1.35695,"c":1.3573,"m":-0.00024},
{"i":337,"o":1.3573,"h":1.3577,"l":1.3572,"c":1.3575,"m":-0.00022},
{"i":338,"o":1.3575,"h":1.35785,"l":1.3574,"c":1.3577,"m":-0.0002},
{"i":339,"o":1.3577,"h":1.3579,"l":1.3575,"c":1.3578,"m":-0.00019},
{"i":340,"o":1.3578,"h":1.3579,"l":1.35755,"c":1.3577,"m":-0.00017},
{"i":341,"o":1.3577,"h":1.358,"l":1.3576,"c":1.3578,"m":-0.00015},
{"i":342,"o":1.3578,"h":1.35795,"l":1.3575,"c":1.3576,"m":-0.00014},
{"i":343,"o":1.3576,"h":1.3577,"l":1.3571,"c":1.3573,"m":-0.00013},
{"i":344,"o":1.3573,"h":1.3574,"l":1.35705,"c":1.3572,"m":-0.00013},
{"i":345,"o":1.3572,"h":1.3574,"l":1.357,"c":1.3571,"m":-0.00014},
{"i":346,"o":1.3571,"h":1.35735,"l":1.357,"c":1.3572,"m":-0.00016},
{"i":347,"o":1.3572,"h":1.3573,"l":1.3568,"c":1.357,"m":-0.00017},
{"i":348,"o":1.357,"h":1.3572,"l":1.35685,"c":1.3571,"m":-0.00018},
{"i":349,"o":1.3571,"h":1.3573,"l":1.3569,"c":1.357,"m":-0.00019},
{"i":350,"o":1.357,"h":1.35715,"l":1.3567,"c":1.3568,"m":-0.0002},
{"i":351,"o":1.3568,"h":1.3569,"l":1.3561,"c":1.3563,"m":-0.00022},
{"i":352,"o":1.3563,"h":1.3564,"l":1.35585,"c":1.356,"m":-0.00023},
{"i":353,"o":1.356,"h":1.3563,"l":1.3559,"c":1.3561,"m":-0.00024},
{"i":354,"o":1.3561,"h":1.35645,"l":1.356,"c":1.3563,"m":-0.00025},
{"i":355,"o":1.3563,"h":1.3564,"l":1.356,"c":1.3562,"m":-0.00026},
{"i":356,"o":1.3562,"h":1.3564,"l":1.35605,"c":1.3563,"m":-0.00026}
],
"levels": [
{"p":1.366,"t":"1.3660"},
{"p":1.3652,"t":"1.3652"},
{"p":1.3592,"t":"1.3592"},
{"p":1.358,"t":"1.3580"},
{"p":1.3535,"t":"1.3535"},
{"p":1.3518,"t":"1.3518"}
],
"price": [{"p":1.3572,"t":"1.3572"}],
"lines": [
{"i":28,"k":"day"},
{"i":316,"k":"day"},
{"i":124,"k":"session"},
{"i":208,"k":"session"}
],
"boxes": [
{"i1":98,"i2":115,"p1":1.35283,"p2":1.35411},
{"i1":143,"i2":224,"p1":1.357145,"p2":1.359463}
],
"edge": [{"v":0.0007}]
},
"vconcat": [
{
  "width": 874,
  "height": 361,
  "title": {"text": "▼ GBPUSD,M5  1.3571 1.3573 1.3571 1.3572", "offset": -9, "dx": 2},
  "layer": [
    {"data": {"name": "boxes"}, "mark": {"type": "rect", "color": "#ffd200"},
     "encoding": {
       "x": {"field": "i1", "type": "quantitative", "scale": {"domain": [-0.25, 356.1], "nice": false, "zero": false, "padding": 0}, "axis": null},
       "x2": {"field": "i2"},
       "y": {"field": "p1", "type": "quantitative", "scale": {"domain": [1.349155, 1.367845], "nice": false, "zero": false, "padding": 0},
             "axis": {"orient": "right", "title": null, "values": [1.3496, 1.3511, 1.3526, 1.3541, 1.3556, 1.3586, 1.3601, 1.3616, 1.3631, 1.3646, 1.3676], "format": ".4f", "tickSize": 2, "labelPadding": 1}},
       "y2": {"field": "p2"}}},
    {"data": {"name": "levels"}, "transform": [{"filter": "datum.p != 1.366"}], "mark": {"type": "rule", "color": "#f24848", "strokeWidth": 1},
     "encoding": {"y": {"field": "p", "type": "quantitative", "scale": {"domain": [1.349155, 1.367845], "nice": false, "zero": false, "padding": 0},
             "axis": {"orient": "right", "title": null, "values": [1.3496, 1.3511, 1.3526, 1.3541, 1.3556, 1.3586, 1.3601, 1.3616, 1.3631, 1.3646, 1.3676], "format": ".4f", "tickSize": 2, "labelPadding": 1}}}},
    {"data": {"name": "levels"}, "transform": [{"filter": "datum.p == 1.366"}], "mark": {"type": "rule", "color": "#ff0000", "strokeWidth": 2},
     "encoding": {"y": {"field": "p", "type": "quantitative", "scale": {"domain": [1.349155, 1.367845], "nice": false, "zero": false, "padding": 0},
             "axis": {"orient": "right", "title": null, "values": [1.3496, 1.3511, 1.3526, 1.3541, 1.3556, 1.3586, 1.3601, 1.3616, 1.3631, 1.3646, 1.3676], "format": ".4f", "tickSize": 2, "labelPadding": 1}}}},
    {"data": {"name": "price"}, "mark": {"type": "rule", "color": "#c8c8c8", "strokeWidth": 1},
     "encoding": {"y": {"field": "p", "type": "quantitative", "scale": {"domain": [1.349155, 1.367845], "nice": false, "zero": false, "padding": 0},
             "axis": {"orient": "right", "title": null, "values": [1.3496, 1.3511, 1.3526, 1.3541, 1.3556, 1.3586, 1.3601, 1.3616, 1.3631, 1.3646, 1.3676], "format": ".4f", "tickSize": 2, "labelPadding": 1}}}},
    {"data": {"name": "lines"}, "transform": [{"filter": "datum.k == 'day'"}], "mark": {"type": "rule", "color": "#7cfc00", "strokeWidth": 1.5},
     "encoding": {"x": {"field": "i", "type": "quantitative", "scale": {"domain": [-0.25, 356.1], "nice": false, "zero": false, "padding": 0}, "axis": null}}},
    {"data": {"name": "lines"}, "transform": [{"filter": "datum.k == 'session'"}], "mark": {"type": "rule", "color": "#8ee53f", "strokeWidth": 1, "strokeDash": [4, 3]},
     "encoding": {"x": {"field": "i", "type": "quantitative", "scale": {"domain": [-0.25, 356.1], "nice": false, "zero": false, "padding": 0}, "axis": null}}},
    {"data": {"name": "bars"}, "mark": {"type": "rule", "color": "#000000", "strokeWidth": 1},
     "encoding": {
       "x": {"field": "i", "type": "quantitative", "scale": {"domain": [-0.25, 356.1], "nice": false, "zero": false, "padding": 0}, "axis": null},
       "y": {"field": "l", "type": "quantitative", "scale": {"domain": [1.349155, 1.367845], "nice": false, "zero": false, "padding": 0},
             "axis": {"orient": "right", "title": null, "values": [1.3496, 1.3511, 1.3526, 1.3541, 1.3556, 1.3586, 1.3601, 1.3616, 1.3631, 1.3646, 1.3676], "format": ".4f", "tickSize": 2, "labelPadding": 1}},
       "y2": {"field": "h"}}},
    {"data": {"name": "bars"}, "mark": {"type": "bar", "size": 1.8, "stroke": "#000000", "strokeWidth": 0.5},
     "encoding": {
       "x": {"field": "i", "type": "quantitative", "scale": {"domain": [-0.25, 356.1], "nice": false, "zero": false, "padding": 0}, "axis": null},
       "y": {"field": "o", "type": "quantitative", "scale": {"domain": [1.349155, 1.367845], "nice": false, "zero": false, "padding": 0},
             "axis": {"orient": "right", "title": null, "values": [1.3496, 1.3511, 1.3526, 1.3541, 1.3556, 1.3586, 1.3601, 1.3616, 1.3631, 1.3646, 1.3676], "format": ".4f", "tickSize": 2, "labelPadding": 1}},
       "y2": {"field": "c"},
       "color": {"condition": {"test": "datum.c < datum.o", "value": "#000000"}, "value": "#ffffff"}}},
    {"data": {"name": "levels"}, "mark": {"type": "tick", "orient": "horizontal", "size": 23, "thickness": 7, "color": "#ff0000", "opacity": 1},
     "encoding": {
       "x": {"datum": 361.2, "type": "quantitative", "scale": {"domain": [-0.25, 356.1], "nice": false, "zero": false, "padding": 0}, "axis": null},
       "y": {"field": "p", "type": "quantitative", "scale": {"domain": [1.349155, 1.367845], "nice": false, "zero": false, "padding": 0},
             "axis": {"orient": "right", "title": null, "values": [1.3496, 1.3511, 1.3526, 1.3541, 1.3556, 1.3586, 1.3601, 1.3616, 1.3631, 1.3646, 1.3676], "format": ".4f", "tickSize": 2, "labelPadding": 1}}}},
    {"data": {"name": "price"}, "mark": {"type": "tick", "orient": "horizontal", "size": 23, "thickness": 7, "color": "#000000", "opacity": 1},
     "encoding": {
       "x": {"datum": 361.2, "type": "quantitative", "scale": {"domain": [-0.25, 356.1], "nice": false, "zero": false, "padding": 0}, "axis": null},
       "y": {"field": "p", "type": "quantitative", "scale": {"domain": [1.349155, 1.367845], "nice": false, "zero": false, "padding": 0},
             "axis": {"orient": "right", "title": null, "values": [1.3496, 1.3511, 1.3526, 1.3541, 1.3556, 1.3586, 1.3601, 1.3616, 1.3631, 1.3646, 1.3676], "format": ".4f", "tickSize": 2, "labelPadding": 1}}}},
    {"data": {"name": "levels"}, "mark": {"type": "text", "color": "#ffffff", "fontSize": 5.6, "font": "Liberation Sans", "align": "center", "baseline": "middle"},
     "encoding": {
       "x": {"datum": 361.2, "type": "quantitative", "scale": {"domain": [-0.25, 356.1], "nice": false, "zero": false, "padding": 0}, "axis": null},
       "y": {"field": "p", "type": "quantitative", "scale": {"domain": [1.349155, 1.367845], "nice": false, "zero": false, "padding": 0},
             "axis": {"orient": "right", "title": null, "values": [1.3496, 1.3511, 1.3526, 1.3541, 1.3556, 1.3586, 1.3601, 1.3616, 1.3631, 1.3646, 1.3676], "format": ".4f", "tickSize": 2, "labelPadding": 1}},
       "text": {"field": "t"}}},
    {"data": {"name": "price"}, "mark": {"type": "text", "color": "#ffffff", "fontSize": 5.6, "font": "Liberation Sans", "align": "center", "baseline": "middle"},
     "encoding": {
       "x": {"datum": 361.2, "type": "quantitative", "scale": {"domain": [-0.25, 356.1], "nice": false, "zero": false, "padding": 0}, "axis": null},
       "y": {"field": "p", "type": "quantitative", "scale": {"domain": [1.349155, 1.367845], "nice": false, "zero": false, "padding": 0},
             "axis": {"orient": "right", "title": null, "values": [1.3496, 1.3511, 1.3526, 1.3541, 1.3556, 1.3586, 1.3601, 1.3616, 1.3631, 1.3646, 1.3676], "format": ".4f", "tickSize": 2, "labelPadding": 1}},
       "text": {"field": "t"}}}
  ]
},
{
  "width": 874,
  "height": 83,
  "title": {"text": "MACD(21,34,1) 0.00005 0.00005", "offset": -9, "dx": 2},
  "layer": [
    {"data": {"name": "bars"}, "mark": {"type": "rule", "color": "#b8b8b8", "strokeWidth": 1},
     "encoding": {
       "x": {"field": "i", "type": "quantitative", "scale": {"domain": [-0.25, 356.1], "nice": false, "zero": false, "padding": 0},
             "axis": {"orient": "bottom", "title": null, "values": [0,16,32,48,64,80,96,112,128,144,160,176,192,208,224,240,256,272,288,304,320,336,352], "labelExpr": "['13 Jun 2025','13 Jun 23:00','16 Jun 00:20','16 Jun 01:40','16 Jun 03:00','16 Jun 04:20','16 Jun 05:40','16 Jun 07:00','16 Jun 08:20','16 Jun 09:40','16 Jun 11:00','16 Jun 12:20','16 Jun 13:40','16 Jun 15:00','16 Jun 16:20','16 Jun 17:40','16 Jun 19:00','16 Jun 20:20','16 Jun 21:40','16 Jun 23:00','17 Jun 00:25','17 Jun 01:45','17 Jun 03:05'][round(datum.value/16)]", "labelAlign": "left", "labelBaseline": "top", "tickSize": 3, "labelPadding": 0, "labelOverlap": false, "labelBound": false, "labelFlush": false}},
       "y": {"field": "m", "type": "quantitative", "scale": {"domain": [-0.000516, 0.000678], "nice": false, "zero": false, "padding": 0},
             "axis": {"orient": "right", "title": null, "values": [-0.00044, 0, 0.00061], "labelExpr": "datum.value > 0.0005 ? '0.00061' : (datum.value < -0.0004 ? '-0.00044' : '0.00')", "tickSize": 2, "labelPadding": -1, "labelFontSize": 5.2}},
       "y2": {"datum": 0}}},
    {"data": {"name": "bars"}, "mark": {"type": "line", "color": "#ff3030", "strokeWidth": 1},
     "encoding": {
       "x": {"field": "i", "type": "quantitative", "scale": {"domain": [-0.25, 356.1], "nice": false, "zero": false, "padding": 0},
             "axis": {"orient": "bottom", "title": null, "values": [0,16,32,48,64,80,96,112,128,144,160,176,192,208,224,240,256,272,288,304,320,336,352], "labelExpr": "['13 Jun 2025','13 Jun 23:00','16 Jun 00:20','16 Jun 01:40','16 Jun 03:00','16 Jun 04:20','16 Jun 05:40','16 Jun 07:00','16 Jun 08:20','16 Jun 09:40','16 Jun 11:00','16 Jun 12:20','16 Jun 13:40','16 Jun 15:00','16 Jun 16:20','16 Jun 17:40','16 Jun 19:00','16 Jun 20:20','16 Jun 21:40','16 Jun 23:00','17 Jun 00:25','17 Jun 01:45','17 Jun 03:05'][round(datum.value/16)]", "labelAlign": "left", "labelBaseline": "top", "tickSize": 3, "labelPadding": 0, "labelOverlap": false, "labelBound": false, "labelFlush": false}},
       "y": {"field": "m", "type": "quantitative", "scale": {"domain": [-0.000516, 0.000678], "nice": false, "zero": false, "padding": 0},
             "axis": {"orient": "right", "title": null, "values": [-0.00044, 0, 0.00061], "labelExpr": "datum.value > 0.0005 ? '0.00061' : (datum.value < -0.0004 ? '-0.00044' : '0.00')", "tickSize": 2, "labelPadding": -1, "labelFontSize": 5.2}}}},
    {"data": {"name": "lines"}, "transform": [{"filter": "datum.k == 'day'"}], "mark": {"type": "rule", "color": "#7cfc00", "strokeWidth": 1.5},
     "encoding": {"x": {"field": "i", "type": "quantitative", "scale": {"domain": [-0.25, 356.1], "nice": false, "zero": false, "padding": 0},
             "axis": {"orient": "bottom", "title": null, "values": [0,16,32,48,64,80,96,112,128,144,160,176,192,208,224,240,256,272,288,304,320,336,352], "labelExpr": "['13 Jun 2025','13 Jun 23:00','16 Jun 00:20','16 Jun 01:40','16 Jun 03:00','16 Jun 04:20','16 Jun 05:40','16 Jun 07:00','16 Jun 08:20','16 Jun 09:40','16 Jun 11:00','16 Jun 12:20','16 Jun 13:40','16 Jun 15:00','16 Jun 16:20','16 Jun 17:40','16 Jun 19:00','16 Jun 20:20','16 Jun 21:40','16 Jun 23:00','17 Jun 00:25','17 Jun 01:45','17 Jun 03:05'][round(datum.value/16)]", "labelAlign": "left", "labelBaseline": "top", "tickSize": 3, "labelPadding": 0, "labelOverlap": false, "labelBound": false, "labelFlush": false}}}},
    {"data": {"name": "lines"}, "transform": [{"filter": "datum.k == 'session'"}], "mark": {"type": "rule", "color": "#8ee53f", "strokeWidth": 1, "strokeDash": [4, 3]},
     "encoding": {"x": {"field": "i", "type": "quantitative", "scale": {"domain": [-0.25, 356.1], "nice": false, "zero": false, "padding": 0},
             "axis": {"orient": "bottom", "title": null, "values": [0,16,32,48,64,80,96,112,128,144,160,176,192,208,224,240,256,272,288,304,320,336,352], "labelExpr": "['13 Jun 2025','13 Jun 23:00','16 Jun 00:20','16 Jun 01:40','16 Jun 03:00','16 Jun 04:20','16 Jun 05:40','16 Jun 07:00','16 Jun 08:20','16 Jun 09:40','16 Jun 11:00','16 Jun 12:20','16 Jun 13:40','16 Jun 15:00','16 Jun 16:20','16 Jun 17:40','16 Jun 19:00','16 Jun 20:20','16 Jun 21:40','16 Jun 23:00','17 Jun 00:25','17 Jun 01:45','17 Jun 03:05'][round(datum.value/16)]", "labelAlign": "left", "labelBaseline": "top", "tickSize": 3, "labelPadding": 0, "labelOverlap": false, "labelBound": false, "labelFlush": false}}}},
    {"data": {"name": "edge"}, "mark": {"type": "rule", "color": "#a0a0a0", "strokeWidth": 3},
     "encoding": {"y": {"field": "v", "type": "quantitative", "scale": {"domain": [-0.000516, 0.000678], "nice": false, "zero": false, "padding": 0},
             "axis": {"orient": "right", "title": null, "values": [-0.00044, 0, 0.00061], "labelExpr": "datum.value > 0.0005 ? '0.00061' : (datum.value < -0.0004 ? '-0.00044' : '0.00')", "tickSize": 2, "labelPadding": -1, "labelFontSize": 5.2}}}}
  ]
}
]
}
